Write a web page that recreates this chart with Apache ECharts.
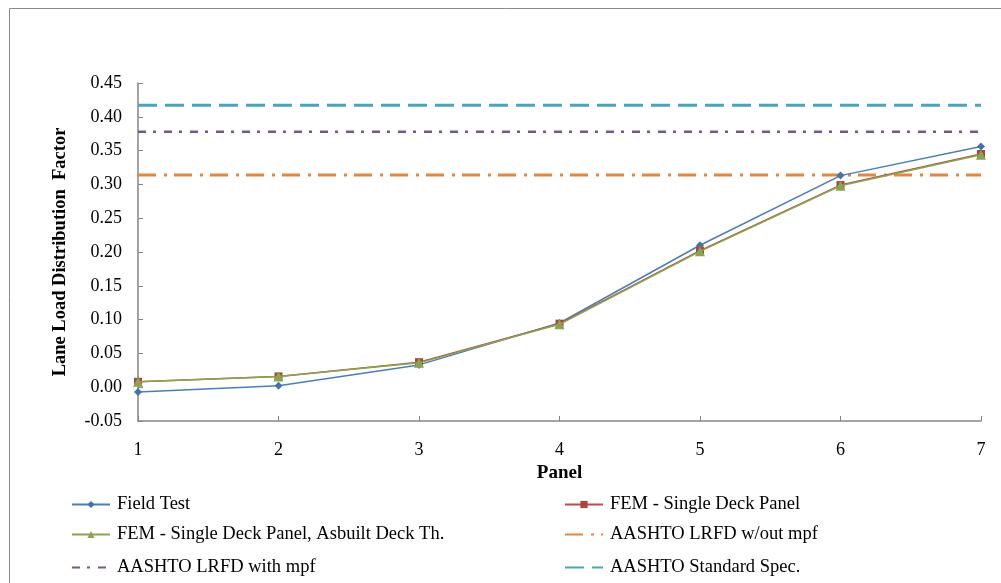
<!DOCTYPE html>
<html><head><meta charset="utf-8">
<script src="https://cdn.jsdelivr.net/npm/echarts@6/dist/echarts.min.js"></script>
<style>html,body{margin:0;padding:0;background:#fff}#c{width:1001px;height:583px}</style>
</head><body><div id="c"></div>
<script>
const panels = [1, 2, 3, 4, 5, 6, 7];
const fieldTest = [-0.007, 0.002, 0.033, 0.095, 0.210, 0.313, 0.356];
const femSingle = [0.008, 0.016, 0.037, 0.094, 0.202, 0.299, 0.345];
const femAsbuilt = [0.008, 0.016, 0.036, 0.093, 0.201, 0.298, 0.344];
const lrfdWithout = 0.314;
const lrfdWith = 0.378;
const standardSpec = 0.417;
const yTicks = { min: -0.05, max: 0.45, interval: 0.05 };
const xTicks = { min: 1, max: 7, interval: 1 };

const F = "'Liberation Serif','Times New Roman',serif";
const pts = arr => panels.map((p, i) => [p, arr[i]]);
const flat = v => [[panels[0], v], [panels[panels.length - 1], v]];

const chart = echarts.init(document.getElementById('c'), null, { renderer: 'canvas' });
const noMarker = { itemStyle: { opacity: 0 } };
function leg(left, top, name, extra) {
  return {
    orient: 'horizontal', left: left, top: top, itemWidth: 38, itemHeight: 9,
    textStyle: { fontFamily: F, fontSize: 18.5, color: '#000', padding: [0, 0, 0, 2] },
    data: [Object.assign({ name: name }, extra || {})]
  };
}
chart.setOption({
  animation: false,
  backgroundColor: '#fff',
  graphic: [{ type: 'rect', shape: { x: 9.5, y: 8.5, width: 1200, height: 800 },
    style: { fill: 'none', stroke: '#8a8a8a', lineWidth: 1 }, silent: true }],
  grid: { left: 138, right: 20, top: 83, bottom: 162, containLabel: false },
  legend: [
    leg(66, 490, 'Field Test'),
    leg(66, 520, 'FEM - Single Deck Panel, Asbuilt Deck Th.'),
    leg(66, 553, 'AASHTO LRFD with mpf', noMarker),
    leg(559, 490, 'FEM - Single Deck Panel'),
    leg(559, 520, 'AASHTO LRFD w/out mpf', noMarker),
    leg(559, 553, 'AASHTO Standard Spec.', noMarker)
  ],
  xAxis: {
    type: 'value', min: xTicks.min, max: xTicks.max, interval: xTicks.interval,
    name: 'Panel', nameLocation: 'middle', nameGap: 42,
    nameTextStyle: { fontFamily: F, fontSize: 19, fontWeight: 'bold', color: '#000' },
    axisLine: { onZero: false, lineStyle: { color: '#868686', width: 1.5 } },
    axisTick: { inside: true, length: 5, lineStyle: { color: '#868686' } },
    axisLabel: { fontFamily: F, fontSize: 18, color: '#000', margin: 20 },
    splitLine: { show: false }
  },
  yAxis: {
    type: 'value', min: yTicks.min, max: yTicks.max, interval: yTicks.interval,
    name: 'Lane Load Distribution  Factor', nameLocation: 'middle', nameGap: 68,
    nameTextStyle: { fontFamily: F, fontSize: 18.5, fontWeight: 'bold', color: '#000' },
    axisLine: { show: true, onZero: false, lineStyle: { color: '#868686', width: 1.5 } },
    axisTick: { show: true, inside: true, length: 5, lineStyle: { color: '#868686' } },
    axisLabel: { fontFamily: F, fontSize: 18, color: '#000', margin: 16,
      formatter: v => v.toFixed(2) },
    splitLine: { show: false }
  },
  series: [
    { name: 'AASHTO Standard Spec.', type: 'line', data: flat(standardSpec), symbol: 'none',
      color: '#4BA3BD', lineStyle: { color: '#4BA3BD', width: 3, type: [19, 8] }, z: 1 },
    { name: 'AASHTO LRFD with mpf', type: 'line', data: flat(lrfdWith), symbol: 'none',
      color: '#71588F', lineStyle: { color: '#71588F', width: 2.5, type: [8, 7, 3, 8] }, z: 1 },
    { name: 'AASHTO LRFD w/out mpf', type: 'line', data: flat(lrfdWithout), symbol: 'none',
      color: '#E6863A', lineStyle: { color: '#E6863A', width: 3, type: [18, 8, 3, 7] }, z: 1 },
    { name: 'Field Test', type: 'line', data: pts(fieldTest), symbol: 'diamond', symbolSize: 8,
      color: '#4572A7', lineStyle: { color: '#4A7EBB', width: 1.5 }, itemStyle: { color: '#4572A7' }, z: 2 },
    { name: 'FEM - Single Deck Panel', type: 'line', data: pts(femSingle), symbol: 'rect', symbolSize: 8,
      color: '#AA4643', lineStyle: { color: '#BE4B48', width: 1.5 }, itemStyle: { color: '#AA4643' }, z: 3 },
    { name: 'FEM - Single Deck Panel, Asbuilt Deck Th.', type: 'line', data: pts(femAsbuilt), symbol: 'triangle', symbolSize: 10,
      color: '#89A54E', lineStyle: { color: '#89A54E', width: 1.5 }, itemStyle: { color: '#89A54E' }, z: 4 }
  ]
});
</script></body></html>
